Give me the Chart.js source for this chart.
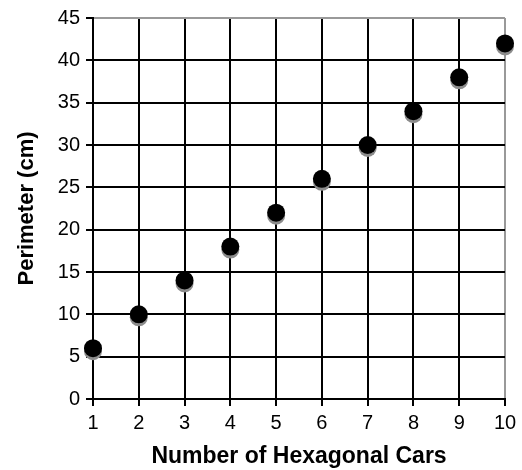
<!DOCTYPE html>
<html lang="en">
<head>
    <meta charset="UTF-8">
    <title>Perimeter of Hexagonal Cars</title>
    <style>
        html, body { margin: 0; padding: 0; background: #fff; }
        #chartBox { width: 522px; height: 470px; }
    </style>
    <script src="https://cdn.jsdelivr.net/npm/chart.js"></script>
</head>
<body>
    <div id="chartBox"><canvas id="perimeterChart"></canvas></div>
    <script>
        const cars = [1, 2, 3, 4, 5, 6, 7, 8, 9, 10];
        const perimeters = [6, 10, 14, 18, 22, 26, 30, 34, 38, 42];
        const xTitle = 'Number of Hexagonal Cars';
        const yTitle = 'Perimeter (cm)';

        // grey drop shadow under each dot
        const dotShadow = {
            id: 'dotShadow',
            beforeDatasetDraw(chart) {
                const c = chart.ctx;
                c.save();
                c.shadowColor = '#8c8c8c';
                c.shadowOffsetX = 0;
                c.shadowOffsetY = 3;
                c.shadowBlur = 0;
            },
            afterDatasetDraw(chart) {
                chart.ctx.restore();
            }
        };

        const font = 'Liberation Sans, Arial, sans-serif';
        const edge = (ctx, last) => ctx.index === last ? '#999999' : '#000000';

        new Chart(document.getElementById('perimeterChart'), {
            type: 'scatter',
            data: {
                datasets: [{
                    data: cars.map((c, i) => ({ x: c, y: perimeters[i] })),
                    backgroundColor: '#000',
                    borderWidth: 0,
                    pointRadius: 9,
                    clip: false
                }]
            },
            options: {
                responsive: true,
                maintainAspectRatio: false,
                animation: false,
                layout: { padding: { top: 15, right: 17, left: 0, bottom: 0 } },
                plugins: { legend: { display: false }, tooltip: { enabled: false } },
                scales: {
                    x: {
                        min: 1, max: 10,
                        afterFit: s => { s.height = 71; },
                        ticks: { stepSize: 1, color: '#000', font: { family: font, size: 20 }, padding: 5 },
                        grid: { color: ctx => edge(ctx, 9), tickColor: '#000', lineWidth: 2, tickLength: 7 },
                        border: { color: '#000', width: 2 },
                        title: { display: true, text: xTitle, color: '#000', font: { family: font, size: 23, weight: 'bold' }, padding: { top: 0, bottom: 0 } }
                    },
                    y: {
                        min: 0, max: 45,
                        afterFit: s => { s.width = 93; },
                        ticks: { stepSize: 5, color: '#000', font: { family: font, size: 20 }, padding: 6 },
                        grid: { color: ctx => edge(ctx, 9), tickColor: '#000', lineWidth: 2, tickLength: 7 },
                        border: { color: '#000', width: 2 },
                        title: { display: true, text: yTitle, color: '#000', font: { family: font, size: 22, weight: 'bold' }, padding: { top: 14, bottom: 0 } }
                    }
                }
            },
            plugins: [dotShadow]
        });
    </script>
</body>
</html>
